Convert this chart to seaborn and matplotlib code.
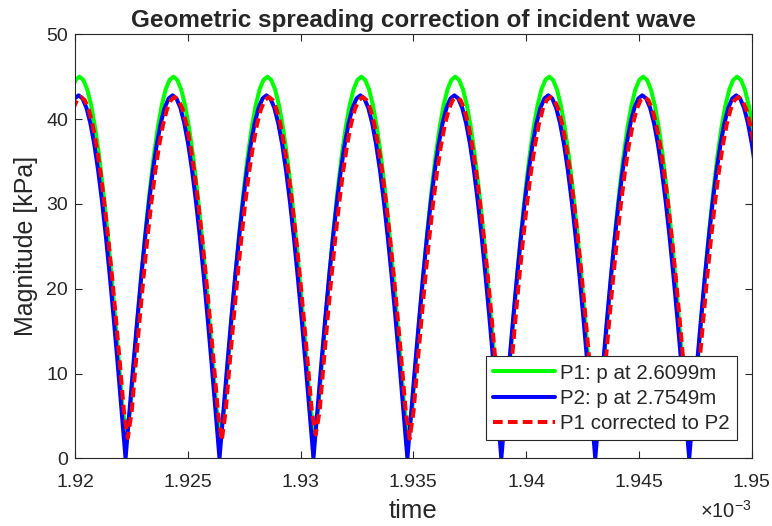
import numpy as np
import pandas as pd
import seaborn as sns
from matplotlib import pyplot as plt

# time grid (ms): 24 samples per arch, first blue zero at 1.92224
t_first = 1.919810
t_last = 1.950180
n_samples = 176
green_delay = 0.00004
red_delay = 0.00010

# P1 at 2.6099 m (green)
p1 = [43.47, 44.61, 45.00, 44.61, 43.47, 41.57, 38.97, 35.70, 31.82, 27.39, 22.50, 17.22, 11.65, 5.87,
      3.0, 5.87, 11.65, 17.22, 22.50, 27.39, 31.82, 35.70, 38.97, 41.57, 43.47, 44.61, 45.00, 44.61, 43.47, 41.57, 38.97, 35.70, 31.82, 27.39, 22.50, 17.22, 11.65, 5.87,
      2.6, 5.87, 11.65, 17.22, 22.50, 27.39, 31.82, 35.70, 38.97, 41.57, 43.47, 44.61, 45.00, 44.61, 43.47, 41.57, 38.97, 35.70, 31.82, 27.39, 22.50, 17.22, 11.65, 5.87,
      3.3, 5.87, 11.65, 17.22, 22.50, 27.39, 31.82, 35.70, 38.97, 41.57, 43.47, 44.61, 45.00, 44.61, 43.47, 41.57, 38.97, 35.70, 31.82, 27.39, 22.50, 17.22, 11.65, 5.87,
      2.8, 5.87, 11.65, 17.22, 22.50, 27.39, 31.82, 35.70, 38.97, 41.57, 43.47, 44.61, 45.00, 44.61, 43.47, 41.57, 38.97, 35.70, 31.82, 27.39, 22.50, 17.22, 11.65, 5.87,
      2.7, 5.87, 11.65, 17.22, 22.50, 27.39, 31.82, 35.70, 38.97, 41.57, 43.47, 44.61, 45.00, 44.61, 43.47, 41.57, 38.97, 35.70, 31.82, 27.39, 22.50, 17.22, 11.65, 5.87,
      3.0, 5.87, 11.65, 17.22, 22.50, 27.39, 31.82, 35.70, 38.97, 41.57, 43.47, 44.61, 45.00, 44.61, 43.47, 41.57, 38.97, 35.70, 31.82, 27.39, 22.50, 17.22, 11.65, 5.87,
      2.8, 5.87, 11.65, 17.22, 22.50, 27.39, 31.82, 35.70, 38.97, 41.57, 43.47, 44.61, 45.00, 44.61, 43.47, 41.57, 38.97, 35.70]

# P2 at 2.7549 m (blue)
p2 = [41.34, 42.43, 42.80, 42.43, 41.34, 39.54, 37.07, 33.96, 30.26, 26.05, 21.40, 16.38, 11.08, 5.59,
      0.0, 5.59, 11.08, 16.38, 21.40, 26.05, 30.26, 33.96, 37.07, 39.54, 41.34, 42.43, 42.80, 42.43, 41.34, 39.54, 37.07, 33.96, 30.26, 26.05, 21.40, 16.38, 11.08, 5.59,
      0.0, 5.59, 11.08, 16.38, 21.40, 26.05, 30.26, 33.96, 37.07, 39.54, 41.34, 42.43, 42.80, 42.43, 41.34, 39.54, 37.07, 33.96, 30.26, 26.05, 21.40, 16.38, 11.08, 5.59,
      0.0, 5.59, 11.08, 16.38, 21.40, 26.05, 30.26, 33.96, 37.07, 39.54, 41.34, 42.43, 42.80, 42.43, 41.34, 39.54, 37.07, 33.96, 30.26, 26.05, 21.40, 16.38, 11.08, 5.59,
      0.0, 5.59, 11.08, 16.38, 21.40, 26.05, 30.26, 33.96, 37.07, 39.54, 41.34, 42.43, 42.80, 42.43, 41.34, 39.54, 37.07, 33.96, 30.26, 26.05, 21.40, 16.38, 11.08, 5.59,
      0.0, 5.59, 11.08, 16.38, 21.40, 26.05, 30.26, 33.96, 37.07, 39.54, 41.34, 42.43, 42.80, 42.43, 41.34, 39.54, 37.07, 33.96, 30.26, 26.05, 21.40, 16.38, 11.08, 5.59,
      0.0, 5.59, 11.08, 16.38, 21.40, 26.05, 30.26, 33.96, 37.07, 39.54, 41.34, 42.43, 42.80, 42.43, 41.34, 39.54, 37.07, 33.96, 30.26, 26.05, 21.40, 16.38, 11.08, 5.59,
      0.0, 5.59, 11.08, 16.38, 21.40, 26.05, 30.26, 33.96, 37.07, 39.54, 41.34, 42.43, 42.80, 42.43, 41.34, 39.54, 37.07, 33.96]

# P1 corrected to P2 (red)
p1c = [41.15, 42.24, 42.60, 42.24, 41.15, 39.36, 36.89, 33.80, 30.12, 25.93, 21.30, 16.30, 11.03, 5.56,
       2.4, 5.56, 11.03, 16.30, 21.30, 25.93, 30.12, 33.80, 36.89, 39.36, 41.15, 42.24, 42.60, 42.24, 41.15, 39.36, 36.89, 33.80, 30.12, 25.93, 21.30, 16.30, 11.03, 5.56,
       2.1, 5.56, 11.03, 16.30, 21.30, 25.93, 30.12, 33.80, 36.89, 39.36, 41.15, 42.24, 42.60, 42.24, 41.15, 39.36, 36.89, 33.80, 30.12, 25.93, 21.30, 16.30, 11.03, 5.56,
       2.8, 5.56, 11.03, 16.30, 21.30, 25.93, 30.12, 33.80, 36.89, 39.36, 41.15, 42.24, 42.60, 42.24, 41.15, 39.36, 36.89, 33.80, 30.12, 25.93, 21.30, 16.30, 11.03, 5.56,
       2.3, 5.56, 11.03, 16.30, 21.30, 25.93, 30.12, 33.80, 36.89, 39.36, 41.15, 42.24, 42.60, 42.24, 41.15, 39.36, 36.89, 33.80, 30.12, 25.93, 21.30, 16.30, 11.03, 5.56,
       2.2, 5.56, 11.03, 16.30, 21.30, 25.93, 30.12, 33.80, 36.89, 39.36, 41.15, 42.24, 42.60, 42.24, 41.15, 39.36, 36.89, 33.80, 30.12, 25.93, 21.30, 16.30, 11.03, 5.56,
       2.5, 5.56, 11.03, 16.30, 21.30, 25.93, 30.12, 33.80, 36.89, 39.36, 41.15, 42.24, 42.60, 42.24, 41.15, 39.36, 36.89, 33.80, 30.12, 25.93, 21.30, 16.30, 11.03, 5.56,
       2.3, 5.56, 11.03, 16.30, 21.30, 25.93, 30.12, 33.80, 36.89, 39.36, 41.15, 42.24, 42.60, 42.24, 41.15, 39.36, 36.89, 33.80]

xticks = [1.92, 1.925, 1.93, 1.935, 1.94, 1.945, 1.95]
xtick_labels = ["1.92", "1.925", "1.93", "1.935", "1.94", "1.945", "1.95"]
yticks = [0, 10, 20, 30, 40, 50]

time = np.linspace(t_first, t_last, n_samples)
df = pd.DataFrame({"t": time, "p1": p1, "p2": p2, "p1c": p1c})

sns.set_theme(style="ticks")
plt.rcParams["font.family"] = ["Liberation Sans", "DejaVu Sans"]
plt.rcParams["mathtext.fontset"] = "custom"
plt.rcParams["mathtext.rm"] = "Liberation Sans"
plt.rcParams["xtick.direction"] = "in"
plt.rcParams["ytick.direction"] = "in"

fig = plt.figure(figsize=(7.72, 5.26), dpi=100)
ax = fig.add_axes([0.0972, 0.1287, 0.8765, 0.8061])

sns.lineplot(x=df["t"] + green_delay, y=df["p1"], color=(0, 1, 0), linewidth=2.9,
             label="P1: p at 2.6099m", ax=ax, errorbar=None)
sns.lineplot(x=df["t"], y=df["p2"], color=(0, 0, 1), linewidth=2.9,
             label="P2: p at 2.7549m", ax=ax, errorbar=None)
sns.lineplot(x=df["t"] + red_delay, y=df["p1c"], color=(1, 0, 0), linewidth=2.9,
             linestyle="--", label="P1 corrected to P2", ax=ax, errorbar=None)
ax.lines[-1].set_dashes((2.4, 1.3))

ax.set_xlim(1.92, 1.95)
ax.set_ylim(0, 50)
ax.set_xticks(xticks)
ax.set_xticklabels(xtick_labels)
ax.set_yticks(yticks)
ax.tick_params(axis="both", labelsize=14, colors="0.15", length=5, width=0.8,
               top=True, right=True)
ax.tick_params(axis="x", pad=11)
ax.tick_params(axis="y", pad=5)
for s in ax.spines.values():
    s.set_visible(True)
    s.set_color("0.15")
    s.set_linewidth(0.8)

ax.set_xlabel("time", fontsize=18.5, color="0.15", labelpad=6)
ax.set_ylabel("Magnitude [kPa]", fontsize=18, color="0.15", labelpad=6)
ax.set_title("Geometric spreading correction of incident wave", fontsize=17.5,
             fontweight="bold", pad=5)

fig.text(0.974, 0.008, r"$\times\mathregular{10^{-3}}$", ha="right", va="bottom",
         fontsize=14.5, color="0.15")

leg = ax.legend(loc="lower right", bbox_to_anchor=(0.978, 0.043), fontsize=14.8,
                handlelength=3.0, frameon=True, fancybox=False, borderpad=0.35,
                labelspacing=0.3, handletextpad=0.25, borderaxespad=0)
leg.get_frame().set_edgecolor("0.15")
leg.get_frame().set_linewidth(0.8)
leg.get_frame().set_alpha(1)

fig.savefig("out.png", dpi=100)
